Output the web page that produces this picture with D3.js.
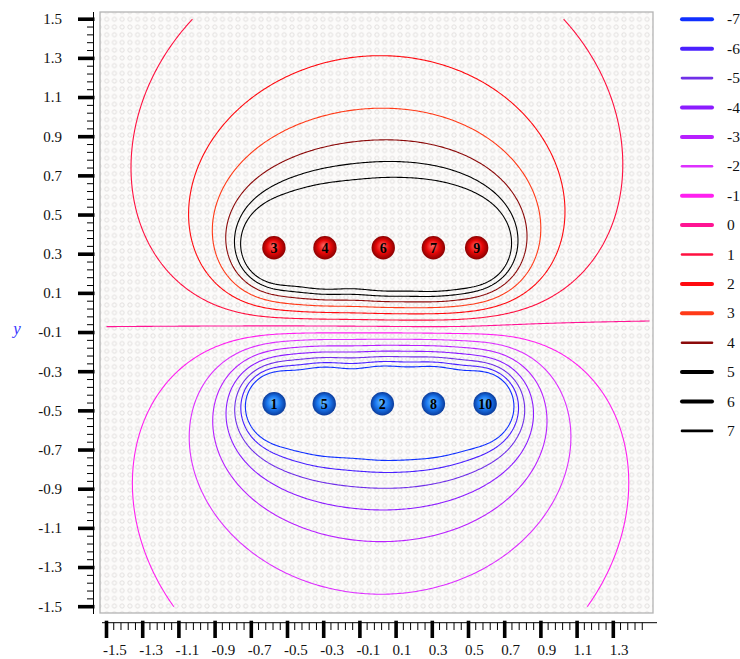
<!DOCTYPE html>
<html><head><meta charset="utf-8">
<script src="https://cdn.jsdelivr.net/npm/d3@7"></script>
<style>body{margin:0;background:#fff}svg{display:block}</style>
</head><body><svg id="c" width="740" height="659"></svg>
<script>
// ---- data ----
const legendLevels = [-7,-6,-5,-4,-3,-2,-1,0,1,2,3,4,5,6,7];
const legendColors = ["#1030ff","#4a20ff","#7030e8","#8c1cff","#b820ff","#dd30ff","#ff20f0","#ff1493","#ff1040","#ff0a10","#ff3a18","#8b0a0a","#000000","#000000","#000000"];
const legendWidths = [4,4,2.6,4,4,2.6,4,4,2.6,4,4,2.6,4,4,2.6];
const contourLevels = [-7,-6,-5,-4,-3,-2,-1,0,1,2,3,4,5,6];
const posX = [-0.575,-0.293,0.029,0.306,0.545];
const posY = [0.333,0.333,0.333,0.333,0.333];
const posLabels = ["3","4","6","7","9"];
const negX = [-0.574,-0.297,0.024,0.306,0.592];
const negY = [-0.464,-0.464,-0.464,-0.464,-0.464];
const negLabels = ["1","5","2","8","10"];
const xTickLabels = ["-1.5","-1.3","-1.1","-0.9","-0.7","-0.5","-0.3","-0.1","0.1","0.3","0.5","0.7","0.9","1.1","1.3"];
const yTickLabels = ["1.5","1.3","1.1","0.9","0.7","0.5","0.3","0.1","-0.1","-0.3","-0.5","-0.7","-0.9","-1.1","-1.3","-1.5"];
const gridMin = -1.5, gridMax = 1.5, gridStep = 0.01;

// ---- layout ----
const svg = d3.select("#c");
const x = d3.scaleLinear().domain([-1.5,1.5]).range([106.5,649.5]);
const y = d3.scaleLinear().domain([-1.5,1.5]).range([606.7,19.2]);
const frame = {x0:100, x1:653, y0:12, y1:613};
const serif = "'Liberation Serif','Times New Roman',serif";

const defs = svg.append("defs");
const pat = defs.append("pattern").attr("id","dots").attr("patternUnits","userSpaceOnUse")
  .attr("width",7.72).attr("height",7.72).attr("x",106.7-3.86).attr("y",19.3-3.86);
pat.append("circle").attr("cx",3.86).attr("cy",3.86).attr("r",2.1)
  .attr("fill","none").attr("stroke","#dedcda").attr("stroke-width",0.9);
const gR = defs.append("radialGradient").attr("id","gRed").attr("fx","45%").attr("fy","40%");
gR.append("stop").attr("offset","0%").attr("stop-color","#ff6a6a");
gR.append("stop").attr("offset","55%").attr("stop-color","#e80808");
gR.append("stop").attr("offset","100%").attr("stop-color","#8a0000");
const gB = defs.append("radialGradient").attr("id","gBlue").attr("fx","45%").attr("fy","40%");
gB.append("stop").attr("offset","0%").attr("stop-color","#6cc0ff");
gB.append("stop").attr("offset","55%").attr("stop-color","#1a78f0");
gB.append("stop").attr("offset","100%").attr("stop-color","#0a3a9a");

// plot background
svg.append("rect").attr("x",frame.x0).attr("y",frame.y0).attr("width",frame.x1-frame.x0).attr("height",frame.y1-frame.y0)
  .attr("fill","#fcfbfa");
svg.append("rect").attr("x",frame.x0).attr("y",frame.y0).attr("width",frame.x1-frame.x0).attr("height",frame.y1-frame.y0)
  .attr("fill","url(#dots)").attr("stroke","#b4b4b4").attr("stroke-width",1.3);

// ---- potential field ----
const n = Math.round((gridMax-gridMin)/gridStep)+1;
const values = new Float64Array(n*n);
for (let j=0;j<n;j++){
  const yy = gridMax - j*gridStep;
  for (let i=0;i<n;i++){
    const xx = gridMin + i*gridStep;
    let v = 0;
    for (let k=0;k<posX.length;k++){ const r=Math.max(1e-3,Math.hypot(xx-posX[k],yy-posY[k])); v += 1/r; }
    for (let k=0;k<negX.length;k++){ const r=Math.max(1e-3,Math.hypot(xx-negX[k],yy-negY[k])); v -= 1/r; }
    values[j*n+i] = v;
  }
}
const cx = c => x(gridMin + (c-0.5)*gridStep);
const cy = c => y(gridMax - (c-0.5)*gridStep);
const contours = d3.contours().size([n,n]).thresholds(contourLevels)(values);
function toLines(geom){
  const lines=[];
  const onFrame = p => p[0]<=0 || p[0]>=n || p[1]<=0 || p[1]>=n;
  geom.coordinates.forEach(poly=>poly.forEach(ring=>{
    let cur=[];
    for (const p of ring){
      if (onFrame(p)){ if(cur.length>1) lines.push(cur); cur=[]; }
      else cur.push(p);
    }
    if (cur.length>1) lines.push(cur);
  }));
  return lines;
}
const line = d3.line().x(p=>cx(p[0])).y(p=>cy(p[1]));
const gC = svg.append("g").attr("fill","none");
contours.forEach(c=>{
  const col = legendColors[legendLevels.indexOf(c.value)];
  toLines(c).forEach(l=>{
    gC.append("path").attr("d",line(l)).attr("stroke",col).attr("stroke-width",1.1).attr("stroke-linejoin","round");
  });
});

// ---- charges ----
function drawCharges(xs,ys,labels,grad){
  const g = svg.append("g");
  xs.forEach((v,i)=>{
    g.append("circle").attr("cx",x(v)).attr("cy",y(ys[i])).attr("r",11.7).attr("fill",`url(#${grad})`);
    g.append("text").attr("x",x(v)).attr("y",y(ys[i])).attr("dy","0.35em").attr("text-anchor","middle")
      .attr("font-family",serif).attr("font-weight","bold").attr("font-size",14).attr("fill","#000").text(labels[i]);
  });
}
drawCharges(posX,posY,posLabels,"gRed");
drawCharges(negX,negY,negLabels,"gBlue");

// ---- axes ----
const ax = svg.append("g");
// y axis
ax.append("line").attr("x1",93.5).attr("x2",93.5).attr("y1",12).attr("y2",614).attr("stroke","#000").attr("stroke-width",1);
d3.range(0,76).map(k=>-1.5+k*0.04).forEach(v=>{
  ax.append("line").attr("x1",87).attr("x2",94).attr("y1",y(v)).attr("y2",y(v)).attr("stroke","#000").attr("stroke-width",1);
});
yTickLabels.forEach(t=>{
  const v=+t;
  ax.append("line").attr("x1",78).attr("x2",94.5).attr("y1",y(v)).attr("y2",y(v)).attr("stroke","#000").attr("stroke-width",3.6);
  ax.append("text").attr("x",62).attr("y",y(v)).attr("dy","0.33em").attr("text-anchor","end")
    .attr("font-family",serif).attr("font-size",15).attr("fill","#111").text(t);
});
// x axis
ax.append("line").attr("x1",102).attr("x2",657).attr("y1",622.7).attr("y2",622.7).attr("stroke","#000").attr("stroke-width",1);
d3.range(0,75).map(k=>-1.5+k*0.04).forEach(v=>{
  ax.append("line").attr("x1",x(v)).attr("x2",x(v)).attr("y1",622.7).attr("y2",630).attr("stroke","#000").attr("stroke-width",1);
});
xTickLabels.forEach(t=>{
  const v=+t;
  ax.append("line").attr("x1",x(v)).attr("x2",x(v)).attr("y1",620.7).attr("y2",638).attr("stroke","#000").attr("stroke-width",3.6);
  ax.append("text").attr("x",x(v)-3.5).attr("y",655).attr("text-anchor","start")
    .attr("font-family",serif).attr("font-size",15).attr("fill","#111").text(t);
});
svg.append("text").attr("x",17).attr("y",329).attr("dy","0.3em").attr("text-anchor","middle")
  .attr("font-family",serif).attr("font-style","italic").attr("font-size",17).attr("fill","#3a3aff").text("y");

// ---- legend ----
const lg = svg.append("g");
legendLevels.forEach((lv,i)=>{
  const yy = 19.3 + i*29.4;
  lg.append("line").attr("x1",682).attr("x2",712).attr("y1",yy).attr("y2",yy)
    .attr("stroke",legendColors[i]).attr("stroke-width",legendWidths[i]).attr("stroke-linecap","round");
  lg.append("text").attr("x",727).attr("y",yy).attr("dy","0.33em").attr("font-family",serif)
    .attr("font-size",15.5).attr("fill","#111").text(lv);
});
</script></body></html>
